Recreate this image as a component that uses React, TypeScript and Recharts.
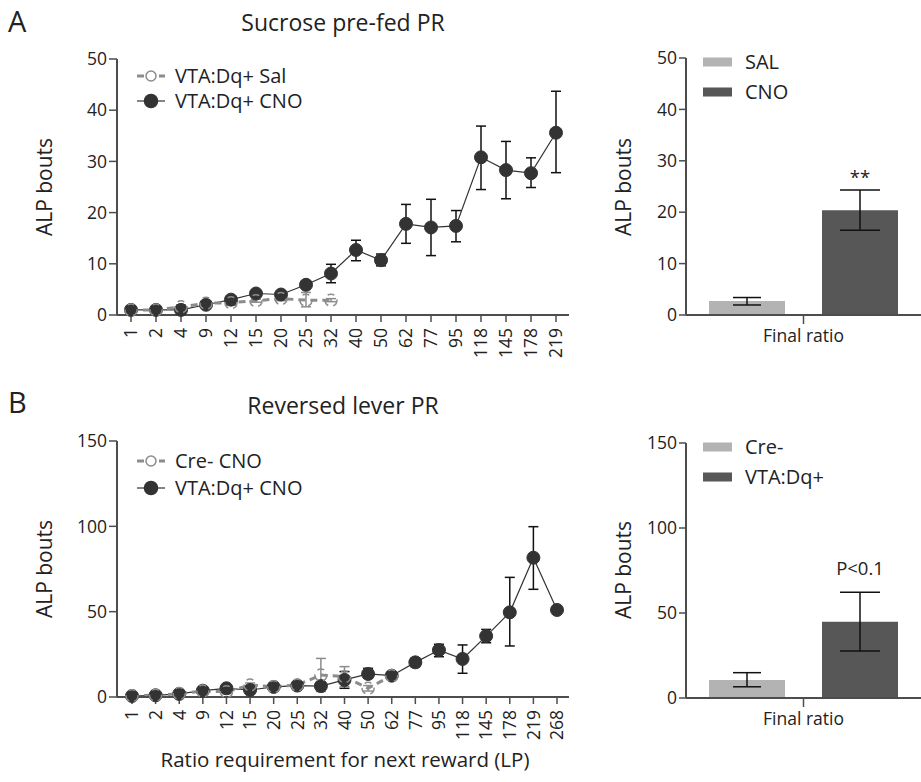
import { LineChart, Line, BarChart, Bar, XAxis, YAxis, ErrorBar, Legend, LabelList } from "recharts"

const FONT = "'Open Sans', sans-serif"
const AXIS = "#4d4d4d"
const INK = "#222222"
const DARK = "#333333"
const OPEN = "#8c8c8c"
const BAR_LIGHT = "#b3b3b3"
const BAR_DARK = "#575757"
const TICK_SIZE = 17.5

// A: sucrose pre-fed PR
const ratiosA = ["1", "2", "4", "9", "12", "15", "20", "25", "32", "40", "50", "62", "77", "95", "118", "145", "178", "219"]
const cnoA = [1.0, 1.0, 1.0, 2.0, 3.0, 4.2, 4.0, 5.9, 8.1, 12.7, 10.7, 17.8, 17.1, 17.4, 30.8, 28.3, 27.7, 35.6]
const cnoALow = [0.8, 0.8, 0.7, 1.6, 2.5, 3.8, 3.6, 5.3, 6.3, 10.6, 9.6, 14.0, 11.6, 14.3, 24.5, 22.7, 24.9, 27.8]
const cnoAHigh = [1.2, 1.2, 1.3, 2.4, 3.5, 4.6, 4.4, 6.5, 9.9, 14.6, 11.9, 21.6, 22.6, 20.4, 36.9, 33.9, 30.7, 43.7]
const salA = [1.0, 1.0, 1.6, 2.3, 2.4, 2.8, 3.2, 2.9, 2.9]
const salALow = [0.8, 0.8, 1.2, 2.0, 1.9, 2.5, 2.8, 1.6, 2.6]
const salAHigh = [1.2, 1.2, 2.0, 2.6, 2.9, 3.1, 3.6, 4.4, 3.2]

// B: reversed lever PR
const ratiosB = ["1", "2", "4", "9", "12", "15", "20", "25", "32", "40", "50", "62", "77", "95", "118", "145", "178", "219", "268"]
const dqB = [0.6, 1.0, 1.8, 3.7, 5.1, 4.1, 5.9, 6.7, 6.4, 10.0, 13.5, 12.5, 20.3, 27.5, 22.3, 35.7, 49.6, 81.6, 51.0]
const dqBLow = [0.1, 0.4, 1.0, 2.8, 4.0, 3.0, 4.8, 5.5, 5.0, 5.1, 11.0, 11.0, 17.8, 23.6, 13.9, 31.8, 29.9, 63.1, 51.0]
const dqBHigh = [1.1, 1.6, 2.6, 4.6, 6.2, 5.2, 7.0, 7.9, 7.8, 14.9, 16.8, 14.0, 22.8, 30.9, 30.5, 39.6, 70.1, 99.8, 51.0]
const creB = [0.8, 1.0, 2.0, 3.5, 3.1, 7.0, 6.0, 7.0, 12.9, 11.9, 5.1, 12.5]
const creBLow = [0.4, 0.6, 1.4, 2.8, 2.0, 5.8, 5.0, 5.8, 3.2, 6.0, 3.5, 11.5]
const creBHigh = [1.2, 1.4, 2.6, 4.2, 4.2, 8.2, 7.0, 8.2, 22.6, 17.8, 6.7, 13.5]

// final ratio bars
const finalCategory = ["Final ratio"]
const salFinal = [2.7]
const salFinalLow = [1.95]
const salFinalHigh = [3.4]
const cnoFinal = [20.4]
const cnoFinalLow = [16.5]
const cnoFinalHigh = [24.3]
const creFinal = [10.6]
const creFinalLow = [6.6]
const creFinalHigh = [14.9]
const dqFinal = [44.9]
const dqFinalLow = [27.6]
const dqFinalHigh = [62.2]

const ticksA = [0, 10, 20, 30, 40, 50]
const ticksB = [0, 50, 100, 150]

const err = (v: number[], lo: number[], hi: number[], i: number) =>
  i < v.length ? [v[i] - lo[i], hi[i] - v[i]] : undefined

const rowsA = ratiosA.map((r, i) => ({
  ratio: r,
  dark: cnoA[i],
  darkErr: err(cnoA, cnoALow, cnoAHigh, i),
  open: salA[i],
  openErr: err(salA, salALow, salAHigh, i),
}))

const rowsB = ratiosB.map((r, i) => ({
  ratio: r,
  dark: dqB[i],
  darkErr: err(dqB, dqBLow, dqBHigh, i),
  open: creB[i],
  openErr: err(creB, creBLow, creBHigh, i),
}))

const barRowsA = finalCategory.map((c, i) => ({
  name: c,
  light: salFinal[i],
  lightErr: err(salFinal, salFinalLow, salFinalHigh, i),
  dark: cnoFinal[i],
  darkErr: err(cnoFinal, cnoFinalLow, cnoFinalHigh, i),
}))

const barRowsB = finalCategory.map((c, i) => ({
  name: c,
  light: creFinal[i],
  lightErr: err(creFinal, creFinalLow, creFinalHigh, i),
  dark: dqFinal[i],
  darkErr: err(dqFinal, dqFinalLow, dqFinalHigh, i),
}))

const RotatedTick = (props: any) => {
  const { x, y, payload } = props
  return (
    <g transform={`translate(${x},${y})`}>
      <text transform="rotate(-90)" x={-4} y={0} dy="0.36em" textAnchor="end" fontSize={TICK_SIZE} fill={INK} fontFamily={FONT}>
        {payload.value}
      </text>
    </g>
  )
}

function LineLegend({ labels, gap }: { labels: string[]; gap: number }) {
  return (
    <svg width={240} height={gap * 2} style={{ display: "block" }}>
      {labels.map((lab, i) => {
        const cy = 13 + i * gap
        const dashed = i === 0
        return (
          <g key={lab}>
            {dashed ? (
              <line x1={0} x2={28} y1={cy} y2={cy} stroke={OPEN} strokeWidth={3} strokeDasharray="7 4" />
            ) : (
              <line x1={0} x2={28} y1={cy} y2={cy} stroke={DARK} strokeWidth={1.2} />
            )}
            <circle cx={14} cy={cy} r={dashed ? 5 : 6.5} fill={dashed ? "#fff" : DARK} stroke={dashed ? OPEN : DARK} strokeWidth={1.5} />
            <text x={38} y={cy} dy="0.36em" fontSize={20} fill={INK} fontFamily={FONT}>
              {lab}
            </text>
          </g>
        )
      })}
    </svg>
  )
}

function BarLegend({ labels }: { labels: string[] }) {
  const colors = [BAR_LIGHT, BAR_DARK]
  return (
    <svg width={200} height={60} style={{ display: "block" }}>
      {labels.map((lab, i) => {
        const cy = 13 + i * 30
        return (
          <g key={lab}>
            <rect x={0} y={cy - 4.5} width={29} height={9} fill={colors[i]} />
            <text x={42} y={cy} dy="0.36em" fontSize={20} fill={INK} fontFamily={FONT}>
              {lab}
            </text>
          </g>
        )
      })}
    </svg>
  )
}

function PRLine({
  rows, yMax, yTicks, darkName, openName, legendTop, legendGap, height, top, bottom, xHeight, padLeft, padRight,
}: {
  rows: any[]; yMax: number; yTicks: number[]; darkName: string; openName: string
  legendTop: number; legendGap: number; height: number; top: number; bottom: number; xHeight: number
  padLeft: number; padRight: number
}) {
  return (
    <LineChart width={580} height={height} data={rows} margin={{ top, right: 11, left: 57, bottom }}>
      <XAxis
        dataKey="ratio"
        interval={0}
        padding={{ left: padLeft, right: padRight }}
        height={xHeight}
        tick={<RotatedTick />}
        tickSize={7}
        tickMargin={2}
        axisLine={{ stroke: AXIS, strokeWidth: 2 }}
        tickLine={{ stroke: AXIS, strokeWidth: 1.5 }}
      />
      <YAxis
        width={60}
        domain={[0, yMax]}
        ticks={yTicks}
        interval={0}
        tickSize={8}
        tickMargin={2}
        tick={{ fontSize: TICK_SIZE, fill: INK, fontFamily: FONT }}
        axisLine={{ stroke: AXIS, strokeWidth: 2 }}
        tickLine={{ stroke: AXIS, strokeWidth: 1.5 }}
      />
      <Legend
        layout="horizontal"
        verticalAlign="middle"
        align="center"
        wrapperStyle={{ left: 137, top: legendTop, width: 240 }}
        content={() => <LineLegend labels={[openName, darkName]} gap={legendGap} />}
      />
      <Line
        dataKey="dark"
        name={darkName}
        stroke={DARK}
        strokeWidth={1.2}
        dot={{ r: 6.5, fill: DARK, stroke: DARK, strokeWidth: 1 }}
        isAnimationActive={false}
      >
        <ErrorBar dataKey="darkErr" width={5} stroke="#111" strokeWidth={1.5} direction="y" />
      </Line>
      <Line
        dataKey="open"
        name={openName}
        stroke={OPEN}
        strokeWidth={3}
        strokeDasharray="7 5"
        dot={{ r: 6, fill: "none", stroke: OPEN, strokeWidth: 1.5 }}
        isAnimationActive={false}
      >
        <ErrorBar dataKey="openErr" width={5} stroke={OPEN} strokeWidth={1.5} direction="y" />
      </Line>
    </LineChart>
  )
}

const annotation = (mean: number, high: number, text: string, gap: number) => (p: any) => {
  const vb = p.viewBox ?? p
  const x = vb.x ?? p.x
  const y = vb.y ?? p.y
  const w = vb.width ?? p.width
  const h = vb.height ?? p.height
  const errTop = y - ((high - mean) * h) / mean
  return (
    <text x={x + w / 2} y={errTop - gap} textAnchor="middle" fontSize={18.5} fill={INK} fontFamily={FONT}>
      {text}
    </text>
  )
}

function FinalBars({
  rows, yMax, yTicks, names, height, top, bottom, note, noteGap,
}: {
  rows: any[]; yMax: number; yTicks: number[]; names: string[]; height: number; top: number; bottom: number
  note: string; noteGap: number
}) {
  return (
    <BarChart width={321} height={height} data={rows} margin={{ top, right: 0, left: 36, bottom }} barSize={76} barGap={37}>
      <XAxis
        dataKey="name"
        height={40}
        tickSize={9}
        tickMargin={6}
        tick={{ fontSize: TICK_SIZE, fill: INK, fontFamily: FONT }}
        axisLine={{ stroke: AXIS, strokeWidth: 2 }}
        tickLine={{ stroke: AXIS, strokeWidth: 1.5 }}
      />
      <YAxis
        width={50}
        domain={[0, yMax]}
        ticks={yTicks}
        interval={0}
        tickSize={7}
        tickMargin={2}
        tick={{ fontSize: TICK_SIZE, fill: INK, fontFamily: FONT }}
        axisLine={{ stroke: AXIS, strokeWidth: 2 }}
        tickLine={{ stroke: AXIS, strokeWidth: 1.5 }}
      />
      <Legend
        layout="horizontal"
        verticalAlign="middle"
        align="center"
        wrapperStyle={{ left: 103, top: top - 9, width: 200 }}
        content={() => <BarLegend labels={names} />}
      />
      <Bar dataKey="light" name={names[0]} fill={BAR_LIGHT} isAnimationActive={false}>
        <ErrorBar dataKey="lightErr" width={14} stroke="#111" strokeWidth={1.5} direction="y" />
      </Bar>
      <Bar dataKey="dark" name={names[1]} fill={BAR_DARK} isAnimationActive={false}>
        <ErrorBar dataKey="darkErr" width={20} stroke="#111" strokeWidth={1.5} direction="y" />
        <LabelList dataKey="dark" content={annotation(rows[0].dark, rows[0].dark + rows[0].darkErr[1], note, noteGap)} />
      </Bar>
    </BarChart>
  )
}

export default function App() {
  const txt = { fontFamily: FONT, fill: INK }
  return (
    <div style={{ position: "absolute", left: 0, top: 0, width: 921, height: 782, background: "#fff", overflow: "hidden" }}>
      <div style={{ position: "absolute", left: 0, top: 0 }}>
        <PRLine
          rows={rowsA}
          yMax={50}
          yTicks={ticksA}
          openName="VTA:Dq+ Sal"
          darkName="VTA:Dq+ CNO"
          legendTop={63}
          legendGap={25}
          height={370}
          top={59}
          bottom={5}
          xHeight={50}
          padLeft={14}
          padRight={13}
        />
      </div>
      <div style={{ position: "absolute", left: 600, top: 0 }}>
        <FinalBars
          rows={barRowsA}
          yMax={50}
          yTicks={ticksA}
          names={["SAL", "CNO"]}
          height={360}
          top={58}
          bottom={5}
          note="**"
          noteGap={6}
        />
      </div>
      <div style={{ position: "absolute", left: 0, top: 380 }}>
        <PRLine
          rows={rowsB}
          yMax={150}
          yTicks={ticksB}
          openName="Cre- CNO"
          darkName="VTA:Dq+ CNO"
          legendTop={68}
          legendGap={27}
          height={372}
          top={61}
          bottom={0}
          xHeight={55}
          padLeft={15}
          padRight={12}
        />
      </div>
      <div style={{ position: "absolute", left: 600, top: 380 }}>
        <FinalBars
          rows={barRowsB}
          yMax={150}
          yTicks={ticksB}
          names={["Cre-", "VTA:Dq+"]}
          height={360}
          top={63}
          bottom={2}
          note="P<0.1"
          noteGap={17}
        />
      </div>
      <svg width={921} height={782} style={{ position: "absolute", left: 0, top: 0, pointerEvents: "none" }}>
        <text x={8} y={32} fontSize={29} {...txt}>A</text>
        <text x={8} y={413} fontSize={29} {...txt}>B</text>
        <text x={343} y={31} fontSize={23} textAnchor="middle" {...txt}>Sucrose pre-fed PR</text>
        <text x={343} y={414} fontSize={23} textAnchor="middle" {...txt}>Reversed lever PR</text>
        <text transform="translate(52,187) rotate(-90)" fontSize={21} textAnchor="middle" {...txt}>ALP bouts</text>
        <text transform="translate(52,569) rotate(-90)" fontSize={21} textAnchor="middle" {...txt}>ALP bouts</text>
        <text transform="translate(631,187) rotate(-90)" fontSize={21} textAnchor="middle" {...txt}>ALP bouts</text>
        <text transform="translate(631,570) rotate(-90)" fontSize={21} textAnchor="middle" {...txt}>ALP bouts</text>
        <text x={345} y={767} fontSize={20.5} textAnchor="middle" {...txt}>Ratio requirement for next reward (LP)</text>
      </svg>
    </div>
  )
}
